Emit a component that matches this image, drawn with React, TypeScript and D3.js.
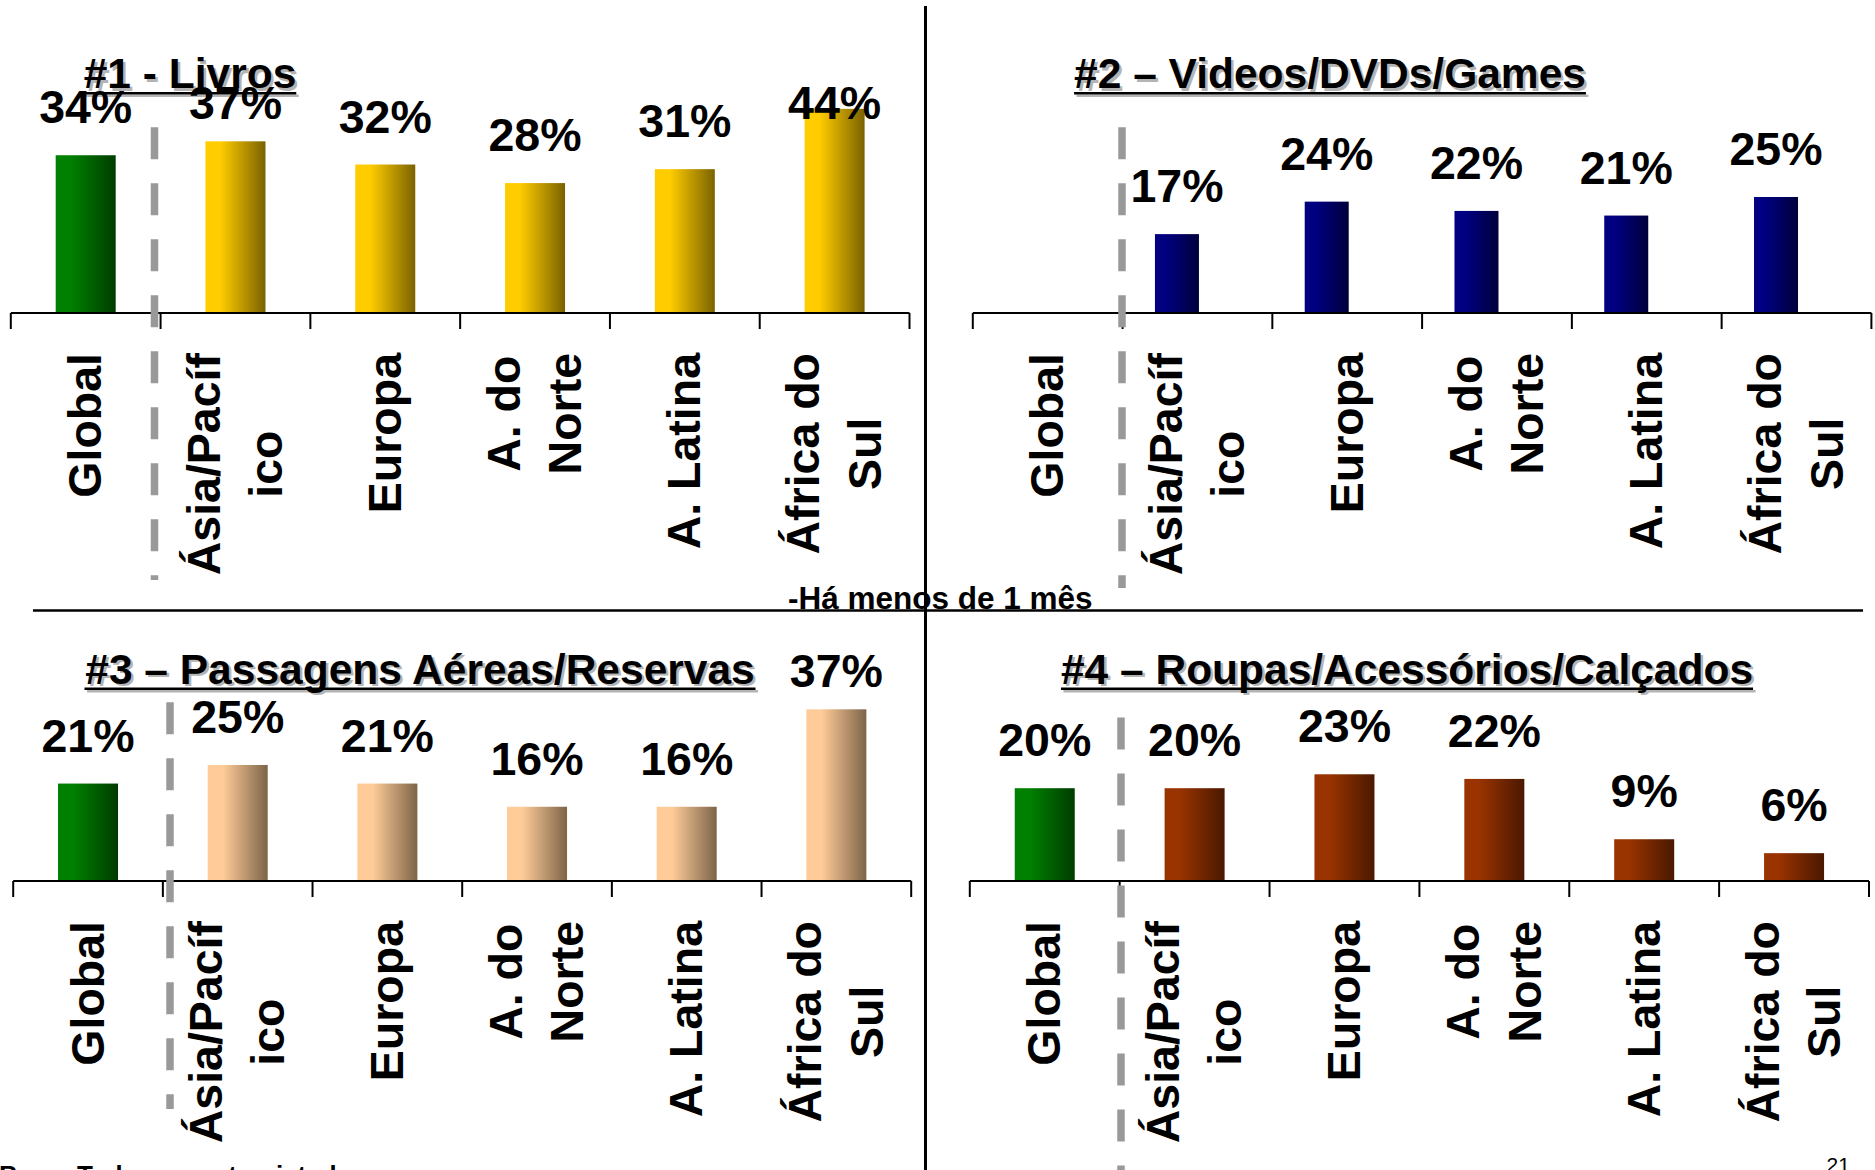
import React from "react";
import * as d3 from "d3";

// ---- data ----
const categories = ["Global", "Ásia/Pacífico", "Europa", "A. do Norte", "A. Latina", "África do Sul"];
const categoryLines = [["Global"], ["Ásia/Pacíf", "ico"], ["Europa"], ["A. do", "Norte"], ["A. Latina"], ["África do", "Sul"]];
const livros = [34, 37, 32, 28, 31, 44];
const videos = [null, 17, 24, 22, 21, 25];
const passagens = [21, 25, 21, 16, 16, 37];
const roupas = [20, 20, 23, 22, 9, 6];
const titles = [
  "#1 - Livros",
  "#2 – Videos/DVDs/Games",
  "#3 – Passagens Aéreas/Reservas",
  "#4 – Roupas/Acessórios/Calçados",
];
const centerNote = "-Há menos de 1 mês";
const footNote = "Base: Todos os entrevistados";
const pageNumber = "21";

const FONT = '"Liberation Sans", Arial, Helvetica, sans-serif';

let _ctx: CanvasRenderingContext2D | null = null;
function measure(text: string, size: number, weight = "bold") {
  if (!_ctx) _ctx = document.createElement("canvas").getContext("2d");
  if (!_ctx) return text.length * size * 0.6;
  _ctx.font = `${weight} ${size}px "Liberation Sans", Arial, sans-serif`;
  return _ctx.measureText(text).width;
}

const gradients = {
  green: ["#008000", "#003c00"],
  gold: ["#FFCC00", "#7a6200"],
  navy: ["#000080", "#00003c"],
  peach: ["#FFCC99", "#7d6448"],
  brown: ["#993300", "#4a1800"],
};

const panels = [
  { values: livros, title: titles[0], color: "gold", x0: 10.8, x1: 909.5, base: 313, barW: 60, barOff: 0, titleX: 190, titleY: 88, dash: { x: 154.5, y1: 127.3, y2: 580 } },
  { values: videos, title: titles[1], color: "navy", x0: 972.8, x1: 1871.4, base: 313, barW: 44, barOff: -20.5, titleX: 1330, titleY: 88, dash: { x: 1122, y1: 127.3, y2: 588 } },
  { values: passagens, title: titles[2], color: "peach", x0: 13.2, x1: 911.2, base: 881, barW: 60, barOff: 0, titleX: 420, titleY: 683.5, dash: { x: 170, y1: 702.3, y2: 1109 } },
  { values: roupas, title: titles[3], color: "brown", x0: 969.8, x1: 1869, base: 881, barW: 60, barOff: 0, titleX: 1407, titleY: 683.5, dash: { x: 1121, y1: 717.4, y2: 1170 } },
];

const PX_PER_PCT = 4.64;
const LABEL_SIZE = 46.5;
const CAT_SIZE = 46.5;
const TITLE_SIZE = 42.5;

function Panel({ p, idx }: { p: any; idx: number }) {
  const x = d3.scaleBand<string>().domain(categories).range([p.x0, p.x1]).paddingInner(0).paddingOuter(0);
  const y = d3.scaleLinear().domain([0, 100]).range([p.base, p.base - PX_PER_PCT * 100]);
  const bw = x.bandwidth();
  const boundaries = categories.map((c) => x(c) as number).concat([p.x1]);
  const titleW = measure(p.title, TITLE_SIZE);
  const labelTop = p.base + 40;
  const clampY = p.base - 194;

  return (
    <g>
      {/* title with shadow */}
      <g fontFamily={FONT} fontWeight="bold" fontSize={TITLE_SIZE}>
        <text x={p.titleX + 2.5} y={p.titleY + 2.5} textAnchor="middle" fill="#b4b4b4">{p.title}</text>
        <rect x={p.titleX - titleW / 2 + 2.5} y={p.titleY + 4 + 2.5} width={titleW} height={2.5} fill="#b4b4b4" />
        <text x={p.titleX} y={p.titleY} textAnchor="middle" fill="#000">{p.title}</text>
        <rect x={p.titleX - titleW / 2} y={p.titleY + 4} width={titleW} height={2.5} fill="#000" />
      </g>

      {/* bars */}
      {categories.map((c, i) => {
        const v = p.values[i];
        if (v == null) return null;
        const cx = (x(c) as number) + bw / 2 + (i === 0 ? 0 : p.barOff);
        const top = y(v);
        const fill = i === 0 ? "url(#g-green)" : `url(#g-${p.color})`;
        const ly = Math.max(top - 32, clampY);
        return (
          <g key={c}>
            <rect x={cx - p.barW / 2} y={top} width={p.barW} height={p.base - top} fill={fill} />
            <text x={cx} y={ly} textAnchor="middle" fontFamily={FONT} fontWeight="bold" fontSize={LABEL_SIZE} fill="#000">
              {`${v}%`}
            </text>
          </g>
        );
      })}

      {/* axis */}
      <line x1={p.x0} x2={p.x1} y1={p.base} y2={p.base} stroke="#000" strokeWidth={2} />
      {boundaries.map((bx, i) => (
        <line key={i} x1={bx} x2={bx} y1={p.base} y2={p.base + 16} stroke="#000" strokeWidth={2} />
      ))}

      {/* category labels (rotated) */}
      {categories.map((c, i) => {
        const lines = categoryLines[i];
        const maxLen = Math.max(...lines.map((l) => measure(l, CAT_SIZE)));
        const cx = (x(c) as number) + bw / 2;
        const midY = labelTop + maxLen / 2;
        const n = lines.length;
        return (
          <g key={c}>
            {lines.map((l, j) => {
              const bx = cx + 15.5 + (j - (n - 1) / 2) * 61.7;
              return (
                <text
                  key={j}
                  transform={`translate(${bx},${midY}) rotate(-90)`}
                  textAnchor="middle"
                  fontFamily={FONT}
                  fontWeight="bold"
                  fontSize={CAT_SIZE}
                  fill="#000"
                >
                  {l}
                </text>
              );
            })}
          </g>
        );
      })}

      {/* dashed separator */}
      <line
        x1={p.dash.x}
        x2={p.dash.x}
        y1={p.dash.y1}
        y2={p.dash.y2}
        stroke="#999999"
        strokeWidth={7.5}
        strokeDasharray="32 24"
      />
    </g>
  );
}

export default function App() {
  return (
    <svg
      width={1875}
      height={1170}
      style={{ position: "absolute", left: 0, top: 0, display: "block", background: "#fff" }}
    >
      <defs>
        {Object.entries(gradients).map(([k, [a, b]]) => (
          <linearGradient key={k} id={`g-${k}`} x1="0" x2="1" y1="0" y2="0">
            <stop offset="0" stopColor={a} />
            <stop offset="0.25" stopColor={a} />
            <stop offset="1" stopColor={b} />
          </linearGradient>
        ))}
      </defs>
      <rect x={0} y={0} width={1875} height={1170} fill="#fff" />

      {panels.map((p, i) => (
        <Panel key={i} p={p} idx={i} />
      ))}

      {/* frame lines */}
      <line x1={925.5} x2={925.5} y1={6} y2={1170} stroke="#000" strokeWidth={3} />
      <line x1={33} x2={1863} y1={610.5} y2={610.5} stroke="#000" strokeWidth={2.5} />

      <text x={788} y={608.5} fontFamily={FONT} fontWeight="bold" fontSize={31.5} fill="#000">
        {centerNote}
      </text>
      <text x={-1} y={1184} fontFamily={FONT} fontWeight="bold" fontSize={26} fill="#000">
        {footNote}
      </text>
      <text x={1826.5} y={1172} fontFamily={FONT} fontSize={21} fill="#000">
        {pageNumber}
      </text>
    </svg>
  );
}
